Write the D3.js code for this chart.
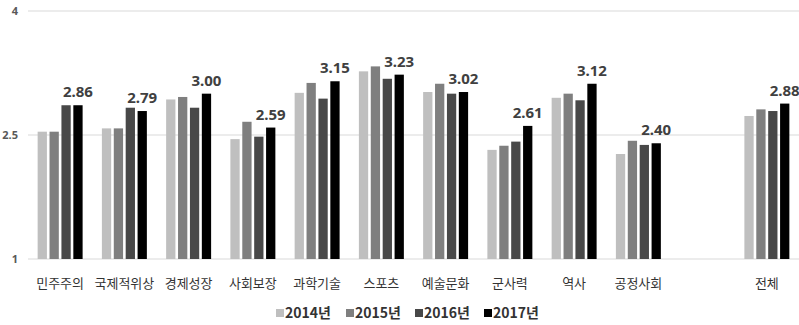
<!DOCTYPE html>
<html><head><meta charset="utf-8">
<script src="https://cdn.jsdelivr.net/npm/d3@7"></script>
<style>body{margin:0;background:#fff}svg{display:block}</style>
</head><body><svg id="c" width="799" height="325"></svg>
<script>
const categories = ["민주주의","국제적위상","경제성장","사회보장","과학기술","스포츠","예술문화","군사력","역사","공정사회","","전체"];
const years = ["2014년","2015년","2016년","2017년"];
const v2014 = [2.54,2.58,2.93,2.45,3.01,3.27,3.02,2.32,2.95,2.27,null,2.73];
const v2015 = [2.54,2.58,2.96,2.66,3.13,3.33,3.12,2.37,3.00,2.43,null,2.81];
const v2016 = [2.86,2.83,2.83,2.48,2.94,3.18,3.00,2.42,2.92,2.38,null,2.79];
const v2017 = [2.86,2.79,3.00,2.59,3.15,3.23,3.02,2.61,3.12,2.40,null,2.88];
const labels2017 = ["2.86","2.79","3.00","2.59","3.15","3.23","3.02","2.61","3.12","2.40",null,"2.88"];
const yTicks = [1,2.5,4];
const yTickLabels = ["1","2.5","4"];
const colors = ["#bfbfbf","#7f7f7f","#484848","#000000"];
const series = [v2014,v2015,v2016,v2017];

const svg = d3.select("#c");
const x0 = d3.scaleBand().domain(d3.range(categories.length)).range([28,799]).paddingInner(0.3).paddingOuter(0.15);
const x1 = d3.scaleBand().domain(d3.range(4)).range([0,x0.bandwidth()]).paddingInner(0.22);
const y = d3.scaleLinear().domain([1,4]).range([259,11]);

// grid
svg.append("g").selectAll("line").data(yTicks).join("line")
  .attr("x1",28).attr("x2",799).attr("y1",d=>y(d)).attr("y2",d=>y(d))
  .attr("stroke","#d9d9d9").attr("stroke-width",1);
svg.append("g").selectAll("text").data(yTicks).join("text")
  .attr("x",18).attr("y",d=>y(d)).attr("dy","0.35em").attr("text-anchor","end")
  .attr("font-family","'Noto Sans','DejaVu Sans',sans-serif").attr("font-weight","bold")
  .attr("font-size",11).attr("fill","#595959").text((d,i)=>yTickLabels[i]);

// bars
const g = svg.append("g");
categories.forEach((c,ci)=>{
  series.forEach((s,si)=>{
    if(s[ci]==null) return;
    g.append("rect").attr("x",x0(ci)+x1(si)).attr("width",x1.bandwidth())
      .attr("y",y(s[ci])).attr("height",y(1)-y(s[ci])).attr("fill",colors[si]);
  });
  if(labels2017[ci]) {
    svg.append("text").attr("x",x0(ci)+x1(3)+x1.bandwidth()/2).attr("y",y(v2017[ci])-8)
      .attr("text-anchor","middle").attr("font-family","'Noto Sans','DejaVu Sans',sans-serif")
      .attr("font-weight","bold").attr("font-size",15).attr("fill","#404040").text(labels2017[ci]);
  }
  if(c) {
    svg.append("text").attr("x",x0(ci)+x0.bandwidth()/2).attr("y",288)
      .attr("text-anchor","middle").attr("font-family","'Noto Sans CJK KR',sans-serif")
      .attr("font-size",13).attr("fill","#333").text(c);
  }
});

// legend
const lg = svg.append("g");
const lx = [276,346,415,484];
years.forEach((yr,i)=>{
  lg.append("rect").attr("x",lx[i]).attr("y",309).attr("width",8).attr("height",8).attr("fill",colors[i]);
  lg.append("text").attr("x",lx[i]+9).attr("y",313).attr("dy","0.36em")
    .attr("font-family","'Noto Sans CJK KR',sans-serif").attr("font-weight","bold")
    .attr("font-size",14).attr("fill","#333").text(yr);
});
</script></body></html>
